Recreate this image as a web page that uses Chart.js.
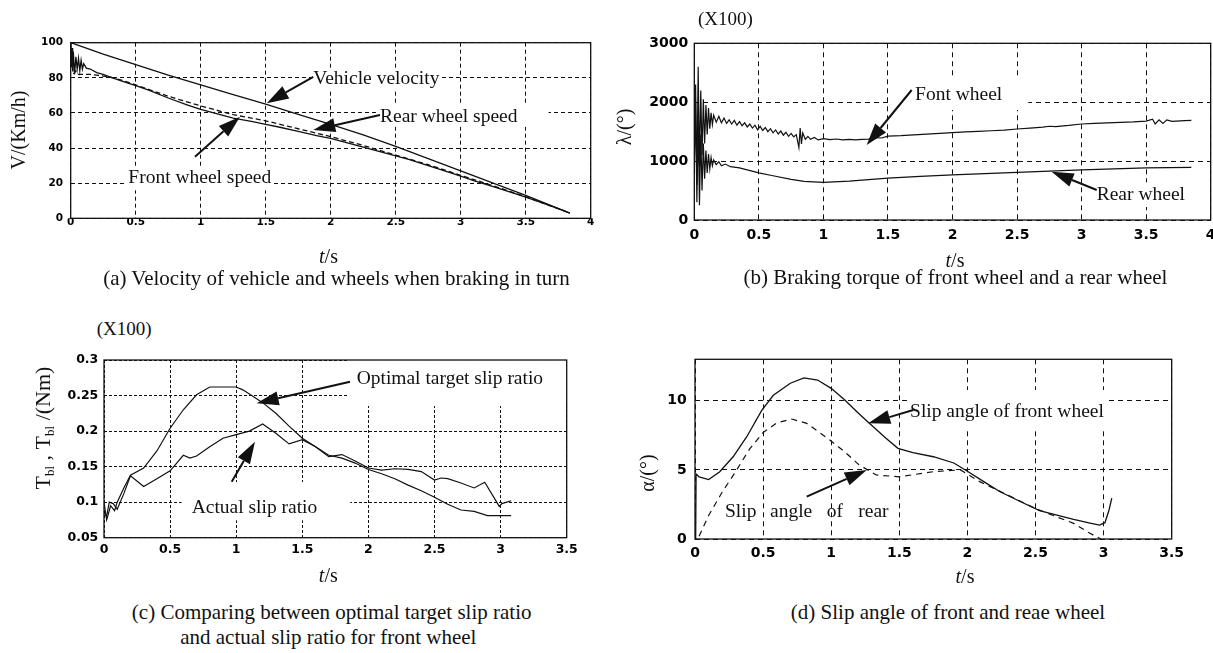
<!DOCTYPE html>
<html>
<head>
<meta charset="utf-8">
<script src="https://cdn.jsdelivr.net/npm/chart.js@4.4.1/dist/chart.umd.min.js"></script>
<style>
  html, body { margin: 0; padding: 0; background: #fff; overflow: hidden; }
  #page { position: relative; width: 1213px; height: 653px; overflow: hidden; background: #fff; }
  canvas { position: absolute; }
  .cap { position: absolute; font-family: "Liberation Serif", "Times New Roman", serif; font-size: 21px; line-height: 21px; color: #111; white-space: nowrap; transform: translateX(-50%); }
  .mult { position: absolute; font-family: "Liberation Serif", "Times New Roman", serif; font-size: 19px; line-height: 19px; color: #111; white-space: nowrap; }
</style>
</head>
<body>
<div id="page">
  <canvas id="chartA" width="605" height="250" style="left:0px;top:20px"></canvas>
  <canvas id="chartB" width="615" height="250" style="left:610px;top:20px"></canvas>
  <canvas id="chartC" width="605" height="250" style="left:0px;top:340px"></canvas>
  <canvas id="chartD" width="615" height="250" style="left:610px;top:340px"></canvas>

  <div class="mult" style="left:698px;top:8.6px">(X100)</div>
  <div class="mult" style="left:96.7px;top:319px">(X100)</div>

  <div class="cap" style="left:336.5px;top:268.4px">(a) Velocity of vehicle and wheels when braking in turn</div>
  <div class="cap" style="left:955.5px;top:267.4px">(b) Braking torque of front wheel and a rear wheel</div>
  <div class="cap" style="left:331.7px;top:602.4px">(c) Comparing between optimal target slip ratio</div>
  <div class="cap" style="left:328.3px;top:627.4px">and actual slip ratio for front wheel</div>
  <div class="cap" style="left:948px;top:602.4px">(d) Slip angle of front and reae wheel</div>
</div>
<script>
const SERIF = '"Liberation Serif", "Times New Roman", serif';
const SANS = '"DejaVu Sans", sans-serif';
const INK = '#111';
const NOTE_SIZE = 19.5;

// (a) vehicle and wheel speed, km/h
const aTicksX = [0, 0.5, 1, 1.5, 2, 2.5, 3, 3.5, 4];
const aTicksY = [0, 20, 40, 60, 80, 100];
const vehicleT = [0, 0.25, 0.5, 0.75, 1, 1.25, 1.5, 1.75, 2, 2.25, 2.5, 2.75, 3, 3.25, 3.5, 3.84];
const vehicleV = [100, 93.5, 87.5, 81.5, 76, 70.5, 65, 59.2, 53.5, 47.5, 41, 34, 27, 20, 13, 3];
const frontAT = [0, 0.005, 0.01, 0.015, 0.02, 0.03, 0.04, 0.05, 0.06, 0.07, 0.08, 0.09, 0.1, 0.12, 0.15, 0.2, 0.25, 0.3, 0.4, 0.5, 0.6, 0.75, 0.9, 1, 1.1, 1.25, 1.4, 1.5, 1.6, 1.75, 1.9, 2, 2.1, 2.25, 2.4, 2.5, 2.6, 2.75, 2.9, 3, 3.1, 3.25, 3.4, 3.5, 3.6, 3.75, 3.84];
const frontAV = [100, 86, 97, 84, 95, 82, 92, 85, 91, 84, 90, 85, 88, 85.5, 85, 83, 82, 80.5, 78, 75.5, 73, 68.5, 64.5, 62, 60, 57, 55, 53.5, 52, 49.5, 47, 45.5, 43.5, 40.5, 37.5, 35.5, 33.5, 30, 26.5, 24, 21.5, 18, 14.5, 12, 9.5, 5.5, 3];
const rearAT = [0, 0.01, 0.02, 0.04, 0.06, 0.1, 0.15, 0.2, 0.3, 0.4, 0.5, 0.75, 1, 1.25, 1.5, 1.75, 2, 2.25, 2.5, 2.75, 3, 3.25, 3.5, 3.84];
const rearAV = [100, 88, 82, 84, 82, 82, 82, 81.5, 80.5, 78.5, 76, 69.5, 64, 59, 55.5, 51, 46.5, 41.5, 36, 30.5, 24.5, 18.5, 12.3, 3];

// (b) braking torque (x100)
const bTicksX = [0, 0.5, 1, 1.5, 2, 2.5, 3, 3.5, 4];
const bTicksY = [0, 1000, 2000, 3000];
const frontBT = [0, 0.01, 0.02, 0.03, 0.04, 0.05, 0.06, 0.07, 0.08, 0.09,
  0.1, 0.11, 0.12, 0.13, 0.14, 0.15, 0.17, 0.19, 0.21, 0.23,
  0.25, 0.27, 0.29, 0.31, 0.33, 0.35, 0.37, 0.39, 0.41, 0.43,
  0.45, 0.47, 0.49, 0.51, 0.53, 0.55, 0.57, 0.59, 0.61, 0.63,
  0.65, 0.67, 0.69, 0.71, 0.73, 0.75, 0.77, 0.79, 0.81, 0.82,
  0.83, 0.84, 0.86, 0.88, 0.9, 0.93, 0.96, 1, 1.05, 1.1,
  1.15, 1.2, 1.25, 1.3, 1.35, 1.4, 1.45, 1.5, 1.6, 1.7,
  1.8, 1.9, 2, 2.1, 2.2, 2.3, 2.4, 2.5, 2.6, 2.7,
  2.75, 2.8, 2.9, 3, 3.1, 3.2, 3.3, 3.4, 3.5, 3.55,
  3.57, 3.6, 3.63, 3.66, 3.7, 3.8, 3.85];
const frontBV = [1000, 2300, 600, 2600, 900, 2200, 1100, 2050, 1300, 1950,
  1450, 1900, 1550, 1820, 1620, 1780, 1660, 1760, 1650, 1730,
  1640, 1700, 1630, 1690, 1610, 1670, 1600, 1650, 1580, 1630,
  1560, 1610, 1530, 1590, 1520, 1570, 1500, 1550, 1480, 1530,
  1460, 1510, 1440, 1490, 1420, 1470, 1410, 1450, 1230, 1560,
  1290, 1480, 1370, 1420, 1370, 1400, 1360, 1380, 1365, 1375,
  1360, 1370, 1360, 1368, 1372, 1400, 1392, 1425, 1432, 1445,
  1458, 1470, 1485, 1495, 1505, 1515, 1525, 1545, 1560, 1578,
  1592, 1585, 1605, 1630, 1640, 1648, 1656, 1665, 1680, 1710,
  1630, 1700, 1640, 1700, 1675, 1688, 1690];
const rearBT = [0, 0.01, 0.02, 0.03, 0.04, 0.05, 0.06, 0.07, 0.08, 0.09,
  0.1, 0.11, 0.12, 0.13, 0.14, 0.15, 0.17, 0.19, 0.21, 0.24,
  0.28, 0.35, 0.5, 0.6, 0.75, 0.85, 1, 1.2, 1.5, 1.75,
  2, 2.5, 3, 3.5, 3.85];
const rearBV = [800, 2000, 300, 1700, 250, 1450, 500, 1300, 700, 1180,
  800, 1120, 870, 1060, 920, 1020, 940, 990, 920, 950,
  905, 885, 800, 755, 690, 655, 640, 660, 710, 740,
  765, 810, 850, 885, 892];

// (c) slip ratio (x100)
const cTicksX = [0, 0.5, 1, 1.5, 2, 2.5, 3, 3.5];
const cTicksY = [0.05, 0.1, 0.15, 0.2, 0.25, 0.3];
const optimalT = [0, 0.02, 0.05, 0.08, 0.1, 0.15, 0.2, 0.3, 0.4, 0.5, 0.6, 0.7, 0.8, 0.9, 1, 1.05, 1.1, 1.2, 1.3, 1.4, 1.5, 1.6, 1.7, 1.8, 1.9, 2, 2.1, 2.2, 2.3, 2.4, 2.5, 2.6, 2.7, 2.8, 2.9, 3, 3.08];
const optimalV = [0.1, 0.075, 0.095, 0.088, 0.1, 0.12, 0.138, 0.148, 0.172, 0.204, 0.23, 0.251, 0.262, 0.262, 0.262, 0.258, 0.252, 0.24, 0.225, 0.207, 0.19, 0.178, 0.166, 0.162, 0.155, 0.146, 0.14, 0.133, 0.124, 0.116, 0.107, 0.097, 0.089, 0.087, 0.081, 0.081, 0.081];
const actualT = [0, 0.02, 0.04, 0.07, 0.1, 0.15, 0.2, 0.3, 0.4, 0.5, 0.55, 0.6, 0.65, 0.7, 0.8, 0.9, 1, 1.1, 1.2, 1.3, 1.4, 1.5, 1.6, 1.7, 1.8, 1.9, 2, 2.1, 2.2, 2.3, 2.4, 2.5, 2.55, 2.6, 2.7, 2.8, 2.88, 2.99, 3.01, 3.08];
const actualV = [0.085, 0.08, 0.1, 0.098, 0.09, 0.112, 0.137, 0.122, 0.133, 0.144, 0.155, 0.166, 0.162, 0.165, 0.178, 0.19, 0.195, 0.2, 0.21, 0.197, 0.182, 0.188, 0.178, 0.164, 0.167, 0.158, 0.148, 0.145, 0.147, 0.146, 0.143, 0.131, 0.134, 0.133, 0.127, 0.12, 0.128, 0.094, 0.098, 0.102];

// (d) slip angle, degrees
const dTicksX = [0, 0.5, 1, 1.5, 2, 2.5, 3, 3.5];
const dTicksY = [0, 5, 10];
const frontDT = [0.005, 0.008, 0.03, 0.1, 0.18, 0.28, 0.38, 0.49, 0.575, 0.7, 0.8, 0.9, 1, 1.1, 1.2, 1.28, 1.4, 1.49, 1.6, 1.75, 1.9, 2, 2.12, 2.24, 2.38, 2.53, 2.65, 2.78, 2.9, 2.97, 3.01, 3.04, 3.06];
const frontDV = [0, 4.7, 4.5, 4.3, 4.85, 5.95, 7.4, 9.3, 10.4, 11.27, 11.65, 11.5, 10.9, 10.05, 9.1, 8.37, 7.3, 6.56, 6.25, 5.95, 5.5, 4.9, 4.15, 3.42, 2.75, 2.05, 1.75, 1.42, 1.15, 1.0, 1.18, 2.1, 2.95];
const rearDT = [0.03, 0.1, 0.2, 0.3, 0.4, 0.5, 0.6, 0.71, 0.82, 0.9, 0.99, 1.1, 1.2, 1.33, 1.5, 1.75, 1.95, 2.09, 2.25, 2.5, 2.78, 2.9, 2.98];
const rearDV = [0.2, 1.7, 3.4, 4.9, 6.5, 7.7, 8.4, 8.68, 8.37, 7.8, 7.16, 6.3, 5.4, 4.63, 4.5, 4.87, 5.0, 4.15, 3.4, 2.2, 1.13, 0.41, 0];

const pts = (ts, vs) => ts.map((t, i) => ({ x: t, y: vs[i] }));
const serif = (size, style) => (style ? style + ' ' : '') + size + 'px ' + SERIF;
const tOverS = [{ text: 't', font: serif(20, 'italic') }, { text: '/s', font: serif(20) }];

// draws runs of text centred on x, baseline y
function drawRuns(ctx, runs, x, y) {
  let w = 0;
  runs.forEach(r => { ctx.font = r.font; w += ctx.measureText(r.text).width; });
  let cx = x - w / 2;
  runs.forEach(r => {
    ctx.font = r.font;
    ctx.fillText(r.text, cx, y + (r.dy || 0));
    cx += ctx.measureText(r.text).width;
  });
}

function drawArrow(ctx, x0, y0, x1, y1) {
  const ang = Math.atan2(y1 - y0, x1 - x0);
  const L = 22, H = 7;
  const bx = x1 - L * Math.cos(ang), by = y1 - L * Math.sin(ang);
  ctx.lineWidth = 2;
  ctx.beginPath(); ctx.moveTo(x0, y0); ctx.lineTo(bx, by); ctx.stroke();
  ctx.beginPath();
  ctx.moveTo(x1, y1);
  ctx.lineTo(bx + H * Math.sin(ang), by - H * Math.cos(ang));
  ctx.lineTo(bx - H * Math.sin(ang), by + H * Math.cos(ang));
  ctx.closePath(); ctx.fill();
}

const specs = {};

const paper = {
  id: 'paper',
  beforeDatasetsDraw(chart) {
    const sp = specs[chart.canvas.id];
    const ctx = chart.ctx, X = chart.scales.x, Y = chart.scales.y;
    ctx.save();
    ctx.font = serif(NOTE_SIZE);
    ctx.fillStyle = '#fff';
    sp.notes.forEach(n => {
      if (!n.box) return;
      const x = X.getPixelForValue(n.at[0]), y = Y.getPixelForValue(n.at[1]);
      const w = ctx.measureText(n.text).width;
      const [l, t, r, b] = n.box;
      ctx.fillRect(x - l, y - NOTE_SIZE * 0.7 - t, w + l + r, NOTE_SIZE * 0.7 + t + b);
    });
    ctx.restore();
  },
  afterDatasetsDraw(chart) {
    const sp = specs[chart.canvas.id];
    const ctx = chart.ctx, X = chart.scales.x, Y = chart.scales.y, a = chart.chartArea;
    ctx.save();
    ctx.strokeStyle = INK;
    ctx.fillStyle = INK;
    ctx.lineWidth = 1.3;
    ctx.strokeRect(a.left, a.top, a.right - a.left, a.bottom - a.top);
    ctx.textAlign = 'left';
    ctx.textBaseline = 'alphabetic';
    sp.notes.forEach(n => {
      ctx.font = serif(NOTE_SIZE);
      if (n.words) {
        n.words.forEach(wd => ctx.fillText(wd[0], X.getPixelForValue(wd[1]), Y.getPixelForValue(n.at[1])));
      } else {
        ctx.fillText(n.text, X.getPixelForValue(n.at[0]), Y.getPixelForValue(n.at[1]));
      }
      if (n.arrow) {
        const f = n.arrow[0], t = n.arrow[1];
        drawArrow(ctx, X.getPixelForValue(f[0]), Y.getPixelForValue(f[1]), X.getPixelForValue(t[0]), Y.getPixelForValue(t[1]));
      }
    });
    // axis titles, given in page pixels
    ctx.translate(-sp.canvas.left, -sp.canvas.top);
    sp.titles.forEach(tt => {
      ctx.save();
      if (tt.vertical) {
        ctx.translate(tt.x, tt.y);
        ctx.rotate(-Math.PI / 2);
        drawRuns(ctx, tt.runs, 0, 0);
      } else {
        drawRuns(ctx, tt.runs, tt.x, tt.y);
      }
      ctx.restore();
    });
    ctx.restore();
  }
};

function makeChart(id, sp) {
  specs[id] = sp;
  const cv = sp.canvas, ar = sp.area;
  const yW = ar.left - cv.left;
  const xH = cv.top + cv.height - ar.bottom;
  const axis = (ticks, min, max, size, pad, fit) => ({
    type: 'linear', min, max,
    afterBuildTicks: s => { s.ticks = ticks.map(v => ({ value: v })); },
    afterFit: fit,
    grid: { color: INK, lineWidth: 1, drawTicks: false },
    border: { display: false, dash: sp.dash },
    ticks: {
      autoSkip: false, maxRotation: 0, padding: pad, color: '#000',
      font: { family: SANS, size, weight: 'bold' },
      callback: v => String(v)
    }
  });
  return new Chart(document.getElementById(id), {
    type: 'line',
    data: {
      datasets: sp.series.map(s => ({
        data: pts(s.t, s.v),
        borderColor: INK,
        borderWidth: s.width || 1.3,
        borderDash: s.dash || [],
        pointRadius: 0,
        tension: 0,
        fill: false
      }))
    },
    options: {
      responsive: false,
      animation: false,
      events: [],
      layout: { padding: { left: 0, top: ar.top - cv.top, right: cv.left + cv.width - ar.right, bottom: 0 } },
      plugins: { legend: { display: false }, tooltip: { enabled: false } },
      scales: {
        x: axis(sp.xTicks, sp.xTicks[0], sp.xTicks[sp.xTicks.length - 1], sp.tickSize, sp.xPad, s => { s.height = xH; }),
        y: axis(sp.yTicks, sp.yMin, sp.yMax, sp.tickSize, sp.yPad, s => { s.width = yW; })
      }
    },
    plugins: [paper]
  });
}

makeChart('chartA', {
  canvas: { left: 0, top: 20, width: 605, height: 250 },
  area: { left: 70.7, top: 42.7, right: 590.7, bottom: 218.3 },
  xTicks: aTicksX, yTicks: aTicksY, yMin: 0, yMax: 100,
  tickSize: 10.5, xPad: -2, yPad: 7.7, dash: [4, 3],
  series: [
    { t: vehicleT, v: vehicleV },
    { t: frontAT, v: frontAV },
    { t: rearAT, v: rearAV, dash: [5, 3] }
  ],
  notes: [
    { text: 'Vehicle velocity', at: [1.866, 76.7], box: [2, 2, 2, 6], arrow: [[1.866, 80.6], [1.508, 65.5]] },
    { text: 'Rear wheel speed', at: [2.379, 55.0], box: [2, 5, 31, 5], arrow: [[2.379, 58.8], [1.866, 50.3]] },
    { text: 'Front wheel speed', at: [0.443, 19.9], box: [4, 2, 2, 7], arrow: [[0.956, 35.1], [1.302, 57.9]] }
  ],
  titles: [
    { runs: [{ text: 'V/(Km/h)', font: serif(20) }], x: 25, y: 130, vertical: true },
    { runs: tOverS, x: 328.5, y: 263.3 }
  ]
});

makeChart('chartB', {
  canvas: { left: 610, top: 20, width: 615, height: 250 },
  area: { left: 694.3, top: 43.3, right: 1210.7, bottom: 220 },
  xTicks: bTicksX, yTicks: bTicksY, yMin: 0, yMax: 3000,
  tickSize: 14, xPad: 6.6, yPad: 6, dash: [5, 4],
  series: [
    { t: frontBT, v: frontBV, width: 1.2 },
    { t: rearBT, v: rearBV, width: 1.2 }
  ],
  notes: [
    { text: 'Font wheel', at: [1.710, 2037], box: [25, 9, 26, 10], arrow: [[1.684, 2207], [1.335, 1273]] },
    { text: 'Rear wheel', at: [3.117, 340], box: [7, 4, 5, 7], arrow: [[3.117, 509], [2.768, 820]] }
  ],
  titles: [
    { runs: [{ text: 'λ/(°)', font: serif(20) }], x: 631, y: 127, vertical: true },
    { runs: tOverS, x: 955, y: 266.5 }
  ]
});

makeChart('chartC', {
  canvas: { left: 0, top: 340, width: 605, height: 250 },
  area: { left: 104, top: 360, right: 566.7, bottom: 537.7 },
  xTicks: cTicksX, yTicks: cTicksY, yMin: 0.05, yMax: 0.3,
  tickSize: 12.5, xPad: 4.5, yPad: 5.7, dash: [3, 2],
  series: [
    { t: optimalT, v: optimalV, width: 1.2 },
    { t: actualT, v: actualV, width: 1.2 }
  ],
  notes: [
    { text: 'Optimal target slip ratio', at: [1.911, 0.2662], box: [9, 10.3, 24, 22], arrow: [[1.861, 0.2695], [1.155, 0.2391]] },
    { text: 'Actual slip ratio', at: [0.663, 0.0843], box: [10, 17.6, 33, 7], arrow: [[0.966, 0.1288], [1.142, 0.1851]] }
  ],
  titles: [
    { runs: [
      { text: 'T', font: serif(22) }, { text: 'bl', font: serif(13), dy: 4 },
      { text: ' , ', font: serif(22) },
      { text: 'T', font: serif(22) }, { text: 'bl', font: serif(13), dy: 4 },
      { text: ' /(Nm)', font: serif(22) }
    ], x: 50, y: 428, vertical: true },
    { runs: tOverS, x: 328.3, y: 581.5 }
  ]
});

makeChart('chartD', {
  canvas: { left: 610, top: 340, width: 615, height: 250 },
  area: { left: 695, top: 359.3, right: 1171.7, bottom: 539 },
  xTicks: dTicksX, yTicks: dTicksY, yMin: 0, yMax: 13,
  tickSize: 14, xPad: 5.9, yPad: 8.3, dash: [5, 4],
  series: [
    { t: frontDT, v: frontDV, width: 1.3 },
    { t: rearDT, v: rearDV, width: 1.2, dash: [6, 5] }
  ],
  notes: [
    { text: 'Slip angle of front wheel', at: [1.579, 8.85], box: [2, 13, 3, 13], arrow: [[1.603, 9.33], [1.272, 8.37]] },
    { text: 'Slip angle of rear', at: [0.220, 1.61],
      words: [['Slip', 0.220], ['angle', 0.551], ['of', 0.967], ['rear', 1.199]],
      arrow: [[0.820, 3.06], [1.261, 4.99]] }
  ],
  titles: [
    { runs: [{ text: 'α/(°)', font: serif(20) }], x: 654, y: 473, vertical: true },
    { runs: tOverS, x: 965, y: 583 }
  ]
});
</script>
</body>
</html>
